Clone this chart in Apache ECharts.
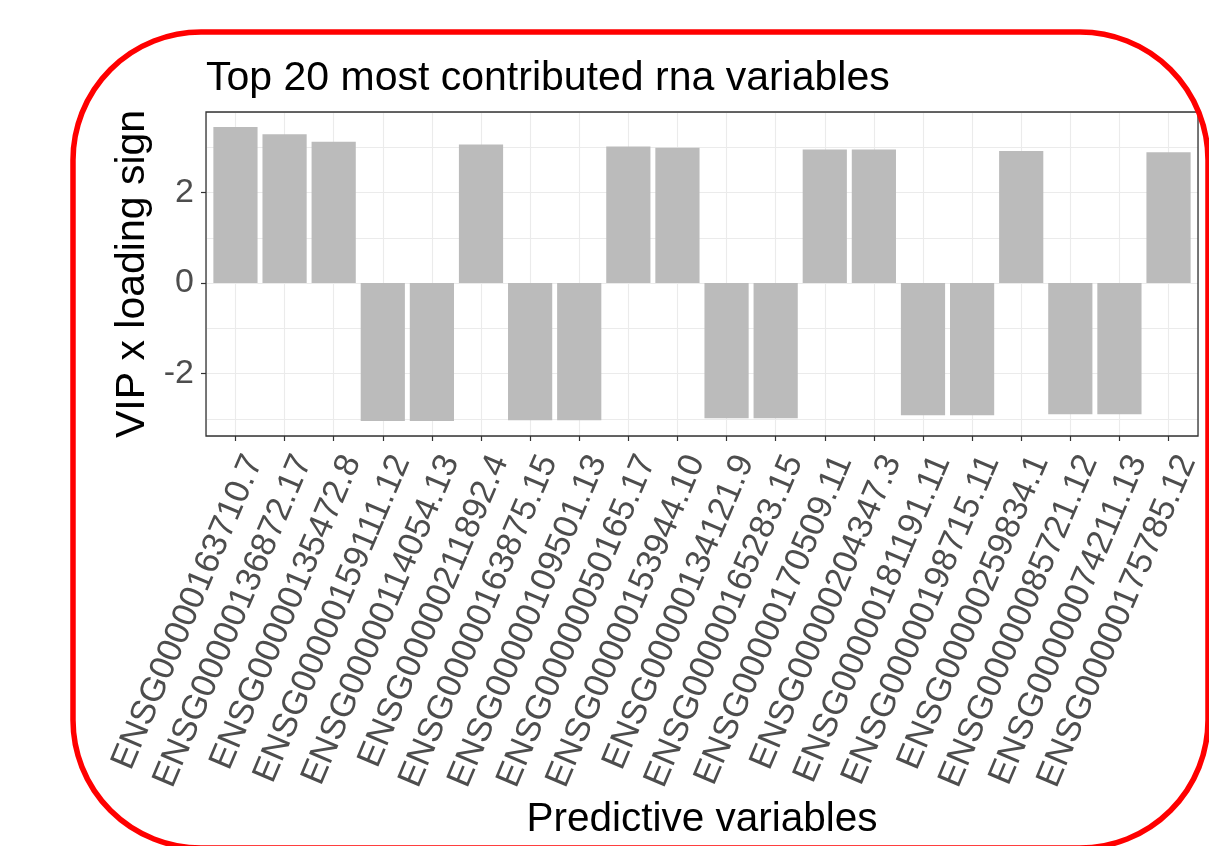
<!DOCTYPE html>
<html>
<head>
<meta charset="utf-8">
<script src="https://cdn.jsdelivr.net/npm/echarts@6/dist/echarts.min.js"></script>
<style>html,body{margin:0;padding:0;background:#fff;}#main{width:1209px;height:846px;}</style>
</head>
<body>
<div id="main"></div>
<script>
const categories = ["ENSG00000163710.7","ENSG00000136872.17","ENSG00000135472.8","ENSG00000159111.12","ENSG00000114054.13","ENSG00000211892.4","ENSG00000163875.15","ENSG00000109501.13","ENSG00000050165.17","ENSG00000153944.10","ENSG00000134121.9","ENSG00000165283.15","ENSG00000170509.11","ENSG00000204347.3","ENSG00000181191.11","ENSG00000198715.11","ENSG00000259834.1","ENSG00000085721.12","ENSG00000074211.13","ENSG00000175785.12"];
const vipValues = [3.45, 3.29, 3.12, -3.05, -3.05, 3.06, -3.03, -3.03, 3.02, 2.99, -2.99, -2.99, 2.95, 2.95, -2.92, -2.92, 2.92, -2.90, -2.90, 2.89];
const yTickLabels = [-2, 0, 2];
const yMin = -3.38, yMax = 3.78;
const chartTitle = "Top 20 most contributed rna variables";
const xTitle = "Predictive variables";
const yTitle = "VIP x loading sign";

const FONT = "'Liberation Sans', Arial, sans-serif";
const chart = echarts.init(document.getElementById('main'), null, {renderer: 'canvas'});

// panel geometry (ggplot-like expansion of discrete axis: 0.6 units each side)
const pL = 206, pT = 112, pW = 992, pH = 324;
const unit = pW / (categories.length + 0.2);
const dL = pL + 0.1 * unit, dW = unit * categories.length;

chart.setOption({
  backgroundColor: '#fff',
  animation: false,
  title: {
    text: chartTitle, left: 201, top: 53,
    textStyle: {fontFamily: FONT, fontSize: 41, fontWeight: 'normal', color: '#000'}
  },
  graphic: [{
    type: 'rect', z: 100,
    shape: {x: 73, y: 32, width: 1135, height: 816, r: 128},
    style: {fill: 'none', stroke: '#ff0000', lineWidth: 5.5}
  }],
  grid: [
    {left: pL, top: pT, width: pW, height: pH, show: true, borderColor: '#333333', borderWidth: 1.3, backgroundColor: 'transparent', z: 10},
    {left: dL, top: pT, width: dW, height: pH}
  ],
  xAxis: [
    {gridIndex: 0, type: 'value', min: 0.4, max: categories.length + 0.6, splitNumber: categories.length,
     axisLine: {show: false, onZero: false}, axisTick: {show: false}, axisLabel: {show: false},
     splitLine: {show: true, lineStyle: {color: '#EBEBEB', width: 1.1}}},
    {gridIndex: 1, type: 'category', data: categories, boundaryGap: true, position: 'bottom',
     axisLine: {show: false, onZero: false},
     axisTick: {show: true, alignWithLabel: true, length: 5, lineStyle: {color: '#333333', width: 1.2}},
     axisLabel: {interval: 0, rotate: 67, margin: 13, verticalAlign: 'top', lineHeight: 40,
       fontFamily: FONT, fontSize: 34.5, color: '#4D4D4D'},
     splitLine: {show: false},
     name: xTitle, nameLocation: 'middle', nameGap: 363,
     nameTextStyle: {fontFamily: FONT, fontSize: 40.5, color: '#000'}}
  ],
  yAxis: [
    {gridIndex: 0, type: 'value', min: yMin, max: yMax, splitNumber: 7,
     axisLine: {show: false, onZero: false}, axisTick: {show: false}, axisLabel: {show: false},
     splitLine: {show: true, lineStyle: {color: '#EBEBEB', width: 1.1}}},
    {gridIndex: 1, type: 'value', min: yMin, max: yMax, splitNumber: 3, offset: dL - pL,
     axisLine: {show: false, onZero: false},
     axisTick: {show: true, length: 5, customValues: yTickLabels, lineStyle: {color: '#333333', width: 1.2}},
     axisLabel: {customValues: yTickLabels, margin: 12,
       fontFamily: FONT, fontSize: 34, color: '#4D4D4D'},
     splitLine: {show: false},
     name: yTitle, nameLocation: 'middle', nameGap: 46,
     nameTextStyle: {fontFamily: FONT, fontSize: 41, color: '#000'}}
  ],
  series: [{
    type: 'bar', xAxisIndex: 1, yAxisIndex: 1, data: vipValues, barWidth: '90%',
    itemStyle: {color: '#BBBBBB'}, z: 3
  }]
});
</script>
</body>
</html>
